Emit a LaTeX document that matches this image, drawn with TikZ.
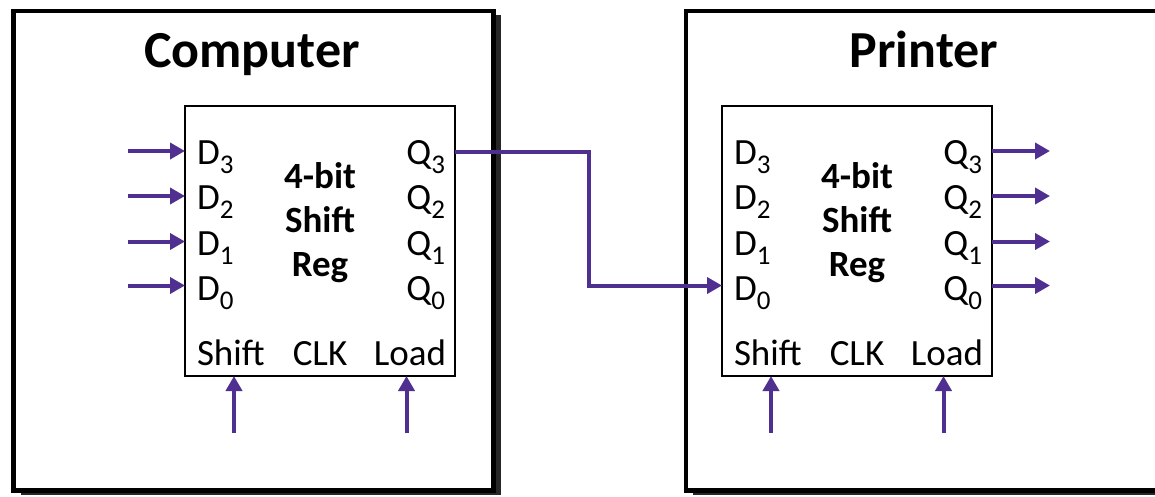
\documentclass[tikz,border=0pt]{standalone}
\usepackage{fontspec}
\setmainfont{Carlito}
\usetikzlibrary{positioning}
\usetikzlibrary{arrows.meta,shadows}
\usepackage{xcolor}
\definecolor{sigpurple}{HTML}{4F2F8F}
\newcommand{\pinsub}[1]{\raisebox{-9pt}{\fontsize{27}{27}\selectfont #1}}

\begin{document}
\begin{tikzpicture}[x=1pt, y=-1pt, every node/.style={inner sep=0,outer sep=0},
		unitbox/.style={draw=black, line width=4.5pt, fill=white, minimum height=479.5pt, drop shadow={shadow xshift=7pt, shadow yshift=-4pt, opacity=.85, fill=black}},
		regbox/.style={draw=black, line width=1.8pt, fill=white, minimum width=270pt, minimum height=270pt},
		pin/.style={font=\fontsize{37}{37}\selectfont},
		title/.style={font=\fontsize{52}{52}\selectfont\bfseries},
		sig/.style={draw=sigpurple, line width=4pt, -{Triangle[length=15pt,width=16pt]}}]

		\useasboundingbox (0,0) rectangle (1155,496);

		%Boxes
		\node[unitbox, minimum width=480pt] (comp) at (253.5,250.75) {};
		\node[unitbox, minimum width=494pt] (prn) at (933,250.75) {};
		\node[title, anchor=base] (ctitle) at (252,67) {Computer};
		\node[title, anchor=base] (ptitle) at (924,67) {Printer};
		\node[regbox] (creg) at (320,241) {};
		\node[regbox] (preg) at (857,241) {};

		%Computer register
		\node[pin, anchor=base west] (cd3) at (197,164) {D\pinsub{3}};
		\node[pin, anchor=base west] (cd2) at (197,209) {D\pinsub{2}};
		\node[pin, anchor=base west] (cd1) at (197,255) {D\pinsub{1}};
		\node[pin, anchor=base west] (cd0) at (197,300) {D\pinsub{0}};
		\node[pin, anchor=base east] (cq3) at (445,164) {Q\pinsub{3}};
		\node[pin, anchor=base east] (cq2) at (445,209) {Q\pinsub{2}};
		\node[pin, anchor=base east] (cq1) at (445,255) {Q\pinsub{1}};
		\node[pin, anchor=base east] (cq0) at (445,300) {Q\pinsub{0}};
		\node[pin, font=\fontsize{37}{44}\selectfont\bfseries, align=center] (cname) at (320,223) {4-bit\\Shift\\Reg};
		\node[pin, anchor=base west] (cshift) at (197,365) {Shift};
		\node[pin, anchor=base] (cclk) at (320,365) {CLK};
		\node[pin, anchor=base east] (cload) at (446,365) {Load};

		%Printer register
		\node[pin, anchor=base west] (pd3) at (734,164) {D\pinsub{3}};
		\node[pin, anchor=base west] (pd2) at (734,209) {D\pinsub{2}};
		\node[pin, anchor=base west] (pd1) at (734,255) {D\pinsub{1}};
		\node[pin, anchor=base west] (pd0) at (734,300) {D\pinsub{0}};
		\node[pin, anchor=base east] (pq3) at (982,164) {Q\pinsub{3}};
		\node[pin, anchor=base east] (pq2) at (982,209) {Q\pinsub{2}};
		\node[pin, anchor=base east] (pq1) at (982,255) {Q\pinsub{1}};
		\node[pin, anchor=base east] (pq0) at (982,300) {Q\pinsub{0}};
		\node[pin, font=\fontsize{37}{44}\selectfont\bfseries, align=center] (pname) at (857,223) {4-bit\\Shift\\Reg};
		\node[pin, anchor=base west] (pshift) at (734,365) {Shift};
		\node[pin, anchor=base] (pclk) at (857,365) {CLK};
		\node[pin, anchor=base east] (pload) at (983,365) {Load};

		%Wire ends
		\coordinate (cin3) at (128,151);
		\coordinate (cin2) at (128,196);
		\coordinate (cin1) at (128,241.5);
		\coordinate (cin0) at (128,285.5);
		\coordinate (pout3) at (1050,151);
		\coordinate (pout2) at (1050,196);
		\coordinate (pout1) at (1050,241.5);
		\coordinate (pout0) at (1050,285.5);
		\coordinate (bend) at (588.5,151.5);
		\coordinate (cshiftin) at (234,433);
		\coordinate (cloadin) at (406.5,433);
		\coordinate (pshiftin) at (771,433);
		\coordinate (ploadin) at (943.5,433);

		%Lines
		\draw[sig] (cin3) -- (cin3 -| creg.west);
		\draw[sig] (cin2) -- (cin2 -| creg.west);
		\draw[sig] (cin1) -- (cin1 -| creg.west);
		\draw[sig] (cin0) -- (cin0 -| creg.west);
		\draw[sig] (bend -| creg.east) -- (bend) |- (cin0 -| preg.west);
		\draw[sig] (pout3 -| preg.east) -- (pout3);
		\draw[sig] (pout2 -| preg.east) -- (pout2);
		\draw[sig] (pout1 -| preg.east) -- (pout1);
		\draw[sig] (pout0 -| preg.east) -- (pout0);
		\draw[sig] (cshiftin) -- (cshiftin |- creg.south);
		\draw[sig] (cloadin) -- (cloadin |- creg.south);
		\draw[sig] (pshiftin) -- (pshiftin |- preg.south);
		\draw[sig] (ploadin) -- (ploadin |- preg.south);
	\end{tikzpicture}
\end{document}
